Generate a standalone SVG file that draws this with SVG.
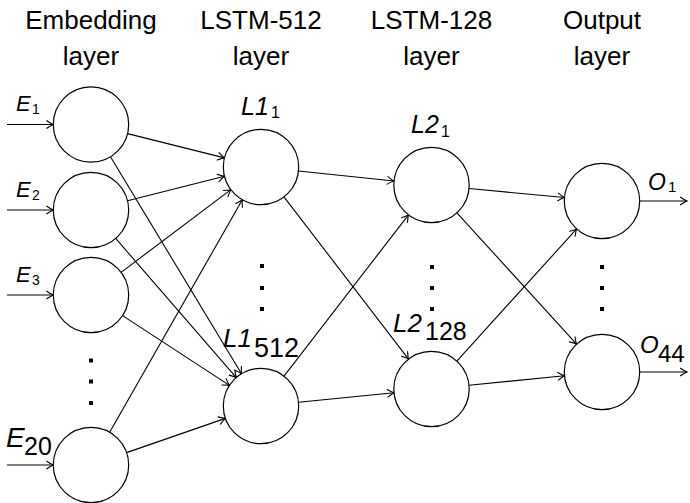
<svg xmlns="http://www.w3.org/2000/svg" width="690" height="503" viewBox="0 0 690 503">
<defs>
<marker id="ah" markerUnits="userSpaceOnUse" markerWidth="12" markerHeight="12" viewBox="-8 -6 10 12" refX="0" refY="0" orient="auto">
<path d="M-6.5,-3.8 Q-2.5,-1 0,0 Q-2.5,1 -6.5,3.8" fill="none" stroke="#000" stroke-width="1.1" stroke-linecap="round"/>
</marker>
</defs>
<style>
.hd{font-family:"Liberation Sans",Arial,sans-serif;font-size:26px;fill:#000;text-anchor:middle}
.lb{font-family:"Liberation Sans",Arial,sans-serif;fill:#000}
.it{font-style:italic}
.n{fill:#fff;stroke:#000;stroke-width:1.2}
.e line{stroke:#000;stroke-width:1.1;marker-end:url(#ah)}
.dot{fill:#000}
</style>
<rect width="690" height="503" fill="#fff"/>
<g id="headers">
<text class="hd" x="91" y="29">Embedding</text>
<text class="hd" x="91" y="65">layer</text>
<text class="hd" x="261" y="29">LSTM-512</text>
<text class="hd" x="261" y="65">layer</text>
<text class="hd" x="431.5" y="29">LSTM-128</text>
<text class="hd" x="431.5" y="65">layer</text>
<text class="hd" x="602" y="29">Output</text>
<text class="hd" x="602" y="65">layer</text>
</g>
<g class="e" id="connectors">
<line x1="7" y1="124.5" x2="53.3" y2="124.5"/>
<line x1="7" y1="210" x2="53.3" y2="210"/>
<line x1="7" y1="295" x2="53.3" y2="295"/>
<line x1="7" y1="465" x2="53.3" y2="465"/>
<line x1="127.58" y1="133.64" x2="224.42" y2="157.86"/>
<line x1="110.49" y1="156.77" x2="241.51" y2="373.73"/>
<line x1="127.55" y1="200.75" x2="224.45" y2="176.25"/>
<line x1="115.70" y1="238.48" x2="236.30" y2="377.52"/>
<line x1="121.12" y1="272.32" x2="230.88" y2="189.68"/>
<line x1="122.57" y1="315.61" x2="229.43" y2="385.39"/>
<line x1="109.68" y1="432.25" x2="242.32" y2="199.75"/>
<line x1="126.62" y1="452.64" x2="225.38" y2="418.36"/>
<line x1="298.49" y1="170.96" x2="394.01" y2="181.04"/>
<line x1="283.96" y1="196.90" x2="408.54" y2="359.10"/>
<line x1="284.03" y1="376.15" x2="408.47" y2="214.85"/>
<line x1="298.51" y1="402.26" x2="393.99" y2="392.74"/>
<line x1="469.04" y1="188.52" x2="564.46" y2="197.48"/>
<line x1="456.90" y1="212.86" x2="576.60" y2="344.14"/>
<line x1="456.83" y1="361.07" x2="576.67" y2="228.93"/>
<line x1="469.01" y1="385.26" x2="564.49" y2="375.74"/>
<line x1="639.7" y1="201" x2="687" y2="201"/>
<line x1="639.7" y1="372" x2="687" y2="372"/>
</g>
<g id="E1"><circle class="n" cx="91" cy="124.5" r="37.7"/>
<text class="lb" x="16" y="111"><tspan class="it" font-size="22">E</tspan><tspan x="32" y="114" font-size="14">1</tspan></text></g>
<g id="E2"><circle class="n" cx="91" cy="210" r="37.7"/>
<text class="lb" x="16" y="196.5"><tspan class="it" font-size="22">E</tspan><tspan x="32" y="199.5" font-size="14">2</tspan></text></g>
<g id="E3"><circle class="n" cx="91" cy="295" r="37.7"/>
<text class="lb" x="16" y="281.5"><tspan class="it" font-size="22">E</tspan><tspan x="32" y="284.5" font-size="14">3</tspan></text></g>
<g id="E20"><circle class="n" cx="91" cy="465" r="37.7"/>
<text class="lb" x="6" y="447"><tspan class="it" font-size="28">E</tspan><tspan x="24" y="455" font-size="25">20</tspan></text></g>
<g id="Edots"><rect class="dot" x="89" y="358.5" width="4" height="4"/><rect class="dot" x="89" y="379.5" width="4" height="4"/><rect class="dot" x="89" y="401" width="4" height="4"/></g>
<g id="L1_1"><circle class="n" cx="261" cy="167" r="37.7"/>
<text class="lb" x="241" y="115"><tspan class="it" font-size="25">L1</tspan><tspan x="271" y="118" font-size="16">1</tspan></text></g>
<g id="L1_512"><circle class="n" cx="261" cy="406" r="37.7"/>
<text class="lb" x="223" y="347"><tspan class="it" font-size="26">L1</tspan><tspan x="254" y="357" font-size="27">512</tspan></text></g>
<g id="L1dots"><rect class="dot" x="260" y="264" width="4" height="4"/><rect class="dot" x="260" y="286" width="4" height="4"/><rect class="dot" x="260" y="307" width="4" height="4"/></g>
<g id="L2_1"><circle class="n" cx="431.5" cy="185" r="37.7"/>
<text class="lb" x="411" y="133"><tspan class="it" font-size="25">L2</tspan><tspan x="441" y="137" font-size="16">1</tspan></text></g>
<g id="L2_128"><circle class="n" cx="431.5" cy="389" r="37.7"/>
<text class="lb" x="393" y="332"><tspan class="it" font-size="26">L2</tspan><tspan x="425" y="340" font-size="25">128</tspan></text></g>
<g id="L2dots"><rect class="dot" x="430" y="265" width="4" height="4"/><rect class="dot" x="430" y="286" width="4" height="4"/><rect class="dot" x="430" y="307" width="4" height="4"/></g>
<g id="O1"><circle class="n" cx="602" cy="201" r="37.7"/>
<text class="lb" x="648" y="190"><tspan class="it" font-size="23">O</tspan><tspan x="668" y="192" font-size="15">1</tspan></text></g>
<g id="O44"><circle class="n" cx="602" cy="372" r="37.7"/>
<text class="lb" x="640" y="353"><tspan class="it" font-size="24">O</tspan><tspan x="658" y="362" font-size="24">44</tspan></text></g>
<g id="Odots"><rect class="dot" x="600" y="265" width="4" height="4"/><rect class="dot" x="600" y="286" width="4" height="4"/><rect class="dot" x="600" y="307" width="4" height="4"/></g>
</svg>
